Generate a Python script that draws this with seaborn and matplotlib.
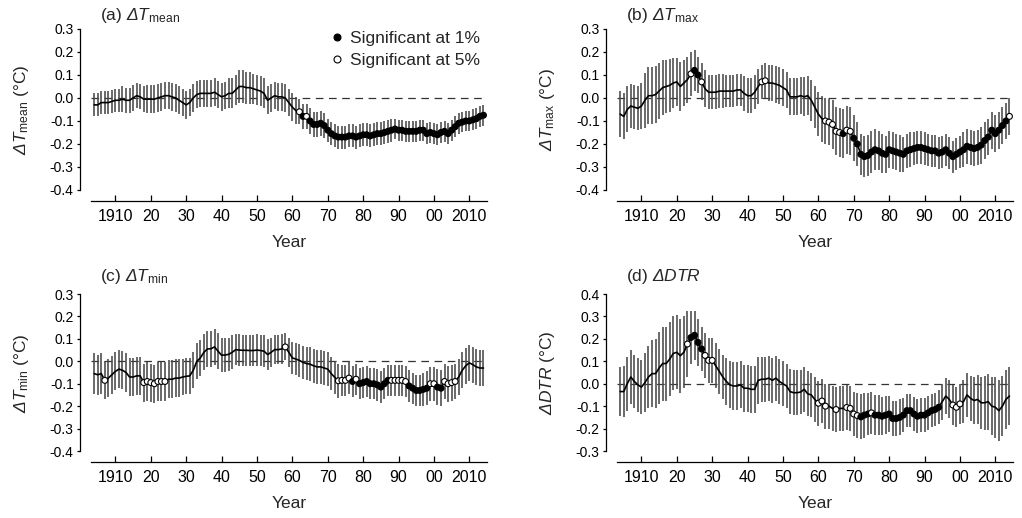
import matplotlib
matplotlib.use("Agg")
import matplotlib.pyplot as plt
from matplotlib.lines import Line2D
import numpy as np
import pandas as pd
import seaborn as sns

# ---------------- data ----------------
years = list(range(1904, 2015))

tmean_vals = [
    -0.03, -0.03, -0.02, -0.02, -0.02, -0.015, -0.01, -0.01, -0.005, -0.01,
    -0.01, 0.0, 0.01, 0.005, -0.005, -0.005, -0.005, -0.005, 0.0, 0.005,
    0.01, 0.01, 0.005, 0.0, -0.01, -0.02, -0.03, -0.02, 0.0, 0.015,
    0.02, 0.02, 0.02, 0.02, 0.025, 0.015, 0.005, 0.01, 0.02, 0.02,
    0.035, 0.05, 0.05, 0.045, 0.045, 0.04, 0.035, 0.03, 0.02, -0.01,
    0.0, 0.01, 0.005, 0.005, 0.0, -0.02, -0.04, -0.055, -0.06, -0.08,
    -0.08, -0.1, -0.115, -0.115, -0.11, -0.12, -0.14, -0.155, -0.165, -0.17,
    -0.17, -0.17, -0.165, -0.165, -0.17, -0.165, -0.16, -0.16, -0.165, -0.16,
    -0.155, -0.155, -0.15, -0.145, -0.14, -0.135, -0.14, -0.14, -0.145, -0.145,
    -0.145, -0.145, -0.14, -0.14, -0.155, -0.15, -0.155, -0.16, -0.15, -0.145,
    -0.155, -0.14, -0.125, -0.11, -0.105, -0.1, -0.1, -0.095, -0.09, -0.08,
    -0.075]
tmean_err = [
    0.05, 0.05, 0.05, 0.05, 0.05, 0.05, 0.05, 0.05, 0.055, 0.055,
    0.055, 0.055, 0.055, 0.055, 0.055, 0.06, 0.06, 0.06, 0.06, 0.06,
    0.06, 0.06, 0.06, 0.06, 0.06, 0.06, 0.06, 0.06, 0.06, 0.06,
    0.06, 0.06, 0.06, 0.06, 0.06, 0.06, 0.06, 0.06, 0.065, 0.065,
    0.065, 0.07, 0.07, 0.07, 0.07, 0.065, 0.065, 0.065, 0.065, 0.06,
    0.06, 0.06, 0.06, 0.06, 0.06, 0.06, 0.06, 0.06, 0.055, 0.055,
    0.055, 0.055, 0.055, 0.055, 0.055, 0.055, 0.05, 0.05, 0.05, 0.05,
    0.05, 0.05, 0.05, 0.05, 0.05, 0.05, 0.05, 0.05, 0.05, 0.05,
    0.05, 0.05, 0.05, 0.05, 0.05, 0.045, 0.045, 0.045, 0.045, 0.045,
    0.045, 0.045, 0.045, 0.045, 0.045, 0.045, 0.045, 0.045, 0.045, 0.045,
    0.045, 0.045, 0.045, 0.045, 0.045, 0.045, 0.045, 0.045, 0.045, 0.045,
    0.045]
tmean_sig1 = [1963] + list(range(1965, 2015))
tmean_sig5 = [1962, 1964]

tmax_vals = [
    -0.07, -0.08, -0.05, -0.035, -0.04, -0.045, -0.035, -0.01, 0.01, 0.01,
    0.015, 0.03, 0.045, 0.05, 0.055, 0.065, 0.07, 0.05, 0.065, 0.08,
    0.105, 0.12, 0.1, 0.07, 0.04, 0.025, 0.025, 0.025, 0.03, 0.03,
    0.03, 0.03, 0.03, 0.035, 0.035, 0.02, 0.01, 0.01, 0.025, 0.05,
    0.07, 0.075, 0.065, 0.065, 0.06, 0.055, 0.045, 0.035, 0.005, 0.005,
    0.005, 0.01, 0.005, 0.01, -0.01, -0.04, -0.07, -0.09, -0.1, -0.105,
    -0.115, -0.145, -0.15, -0.155, -0.14, -0.145, -0.175, -0.2, -0.245, -0.255,
    -0.25, -0.235, -0.225, -0.23, -0.24, -0.245, -0.225, -0.23, -0.235, -0.24,
    -0.245, -0.23, -0.225, -0.22, -0.215, -0.215, -0.22, -0.225, -0.23, -0.23,
    -0.24, -0.235, -0.225, -0.24, -0.255, -0.245, -0.235, -0.225, -0.21, -0.215,
    -0.22, -0.215, -0.205, -0.185, -0.17, -0.14, -0.155, -0.14, -0.12, -0.1,
    -0.08]
tmax_err = [
    0.1, 0.1, 0.1, 0.095, 0.095, 0.095, 0.1, 0.12, 0.125, 0.125,
    0.125, 0.12, 0.12, 0.115, 0.115, 0.11, 0.105, 0.105, 0.1, 0.1,
    0.095, 0.09, 0.08, 0.08, 0.08, 0.075, 0.075, 0.075, 0.075, 0.075,
    0.07, 0.07, 0.07, 0.07, 0.07, 0.075, 0.075, 0.075, 0.075, 0.075,
    0.075, 0.075, 0.08, 0.08, 0.08, 0.08, 0.08, 0.08, 0.08, 0.08,
    0.08, 0.08, 0.085, 0.085, 0.09, 0.09, 0.095, 0.1, 0.1, 0.1,
    0.105, 0.105, 0.105, 0.105, 0.105, 0.105, 0.1, 0.095, 0.09, 0.09,
    0.09, 0.09, 0.09, 0.085, 0.085, 0.08, 0.08, 0.08, 0.08, 0.08,
    0.075, 0.075, 0.075, 0.07, 0.07, 0.07, 0.07, 0.07, 0.07, 0.07,
    0.07, 0.07, 0.07, 0.07, 0.07, 0.07, 0.07, 0.075, 0.075, 0.075,
    0.075, 0.075, 0.08, 0.08, 0.08, 0.08, 0.08, 0.08, 0.08, 0.08,
    0.08]
tmax_sig1 = [1925, 1926, 1967] + list(range(1970, 2014))
tmax_sig5 = [1924, 1927, 1944, 1945, 1962, 1963, 1964, 1965, 1966, 1968, 1969, 2014]

tmin_vals = [
    -0.055, -0.06, -0.055, -0.085, -0.075, -0.06, -0.045, -0.035, -0.04, -0.05,
    -0.07, -0.07, -0.065, -0.065, -0.095, -0.09, -0.095, -0.1, -0.09, -0.09,
    -0.09, -0.08, -0.08, -0.075, -0.075, -0.07, -0.067, -0.065, -0.04, 0.0,
    0.015, 0.04, 0.055, 0.056, 0.064, 0.045, 0.027, 0.028, 0.031, 0.04,
    0.052, 0.05, 0.049, 0.049, 0.048, 0.048, 0.05, 0.048, 0.045, 0.03,
    0.04, 0.052, 0.052, 0.055, 0.064, 0.04, 0.015, 0.01, 0.004, -0.005,
    -0.01, -0.013, -0.02, -0.025, -0.025, -0.03, -0.035, -0.055, -0.072, -0.087,
    -0.085, -0.085, -0.075, -0.09, -0.08, -0.1, -0.095, -0.09, -0.1, -0.1,
    -0.105, -0.115, -0.1, -0.085, -0.085, -0.085, -0.085, -0.085, -0.09, -0.11,
    -0.12, -0.13, -0.13, -0.125, -0.12, -0.1, -0.1, -0.115, -0.12, -0.09,
    -0.1, -0.095, -0.09, -0.07, -0.04, -0.02, -0.007, -0.015, -0.025, -0.03,
    -0.03]
tmin_err = [
    0.09, 0.09, 0.09, 0.085, 0.085, 0.085, 0.085, 0.085, 0.085, 0.085,
    0.085, 0.085, 0.085, 0.085, 0.085, 0.085, 0.085, 0.085, 0.085, 0.085,
    0.085, 0.085, 0.085, 0.085, 0.085, 0.08, 0.08, 0.08, 0.08, 0.08,
    0.08, 0.08, 0.08, 0.08, 0.08, 0.08, 0.075, 0.075, 0.075, 0.075,
    0.07, 0.07, 0.07, 0.07, 0.07, 0.07, 0.07, 0.07, 0.07, 0.07,
    0.065, 0.065, 0.065, 0.065, 0.06, 0.065, 0.07, 0.07, 0.075, 0.075,
    0.075, 0.075, 0.075, 0.075, 0.075, 0.075, 0.075, 0.075, 0.075, 0.075,
    0.07, 0.07, 0.07, 0.07, 0.07, 0.07, 0.07, 0.07, 0.07, 0.07,
    0.07, 0.07, 0.07, 0.07, 0.07, 0.07, 0.07, 0.07, 0.07, 0.07,
    0.07, 0.07, 0.07, 0.075, 0.075, 0.075, 0.075, 0.08, 0.08, 0.08,
    0.08, 0.08, 0.08, 0.08, 0.08, 0.08, 0.08, 0.08, 0.08, 0.08,
    0.08]
tmin_sig1 = [1977] + list(range(1979, 1988)) + list(range(1993, 1999)) + [2001, 2002]
tmin_sig5 = ([1907] + list(range(1918, 1925)) + [1958, 1973, 1974, 1975, 1976, 1978]
             + list(range(1988, 1993)) + [1999, 2000, 2003, 2004, 2005, 2006])

dtr_vals = [
    -0.035, -0.035, 0.0, 0.03, 0.01, -0.005, -0.015, 0.005, 0.03, 0.045,
    0.045, 0.07, 0.09, 0.09, 0.11, 0.135, 0.14, 0.125, 0.14, 0.177,
    0.206, 0.216, 0.184, 0.155, 0.126, 0.104, 0.104, 0.08, 0.055, 0.03,
    0.01, -0.005, -0.01, -0.01, -0.005, -0.02, -0.02, -0.025, -0.025, 0.015,
    0.02, 0.02, 0.025, 0.015, 0.025, 0.01, 0.0, -0.01, -0.035, -0.04,
    -0.04, -0.037, -0.025, -0.045, -0.05, -0.07, -0.087, -0.077, -0.1, -0.1,
    -0.11, -0.115, -0.11, -0.11, -0.106, -0.11, -0.135, -0.142, -0.148, -0.14,
    -0.135, -0.13, -0.14, -0.14, -0.145, -0.14, -0.135, -0.155, -0.155, -0.15,
    -0.14, -0.12, -0.12, -0.135, -0.145, -0.14, -0.14, -0.13, -0.12, -0.115,
    -0.105, -0.08, -0.055, -0.07, -0.095, -0.105, -0.09, -0.08, -0.05, -0.065,
    -0.075, -0.07, -0.085, -0.085, -0.08, -0.1, -0.105, -0.12, -0.1, -0.07,
    -0.055]
dtr_err = [
    0.11, 0.115, 0.12, 0.12, 0.12, 0.12, 0.12, 0.13, 0.14, 0.15,
    0.155, 0.16, 0.165, 0.165, 0.165, 0.165, 0.165, 0.165, 0.16, 0.145,
    0.12, 0.11, 0.105, 0.1, 0.1, 0.1, 0.1, 0.1, 0.1, 0.1,
    0.105, 0.105, 0.105, 0.105, 0.105, 0.105, 0.105, 0.105, 0.105, 0.105,
    0.1, 0.1, 0.1, 0.1, 0.1, 0.1, 0.1, 0.1, 0.1, 0.1,
    0.1, 0.1, 0.1, 0.1, 0.1, 0.1, 0.1, 0.1, 0.1, 0.1,
    0.1, 0.1, 0.1, 0.1, 0.1, 0.1, 0.1, 0.1, 0.1, 0.1,
    0.095, 0.095, 0.09, 0.09, 0.085, 0.085, 0.08, 0.08, 0.08, 0.08,
    0.075, 0.075, 0.075, 0.075, 0.075, 0.075, 0.075, 0.075, 0.075, 0.075,
    0.075, 0.08, 0.08, 0.085, 0.09, 0.09, 0.09, 0.095, 0.1, 0.1,
    0.105, 0.11, 0.115, 0.12, 0.125, 0.13, 0.135, 0.135, 0.135, 0.13,
    0.13]
dtr_sig1 = [1924, 1925, 1926, 1927, 1972, 1973, 1974] + list(range(1976, 1995))
dtr_sig5 = [1923, 1928, 1929, 1930, 1960, 1961, 1962, 1965, 1968, 1969, 1970, 1971,
            1975, 1998, 1999, 2000]

xtick_years = [1910, 1920, 1930, 1940, 1950, 1960, 1970, 1980, 1990, 2000, 2010]
xtick_labels = ["1910", "20", "30", "40", "50", "60", "70", "80", "90", "00", "2010"]
yticks_temp = [0.3, 0.2, 0.1, 0.0, -0.1, -0.2, -0.3, -0.4]
yticks_dtr = [0.4, 0.3, 0.2, 0.1, 0.0, -0.1, -0.2, -0.3]
LAB1 = "Significant at 1%"
LAB5 = "Significant at 5%"

# ---------------- style ----------------
sns.set_style("ticks")
plt.rcParams["font.family"] = ["Liberation Sans", "DejaVu Sans"]
plt.rcParams["mathtext.fontset"] = "custom"
plt.rcParams["mathtext.rm"] = "Liberation Sans"
plt.rcParams["mathtext.it"] = "Liberation Sans:italic"
plt.rcParams["mathtext.sf"] = "Liberation Sans:italic"
plt.rcParams["mathtext.bf"] = "Liberation Sans:bold"
plt.rcParams["lines.scale_dashes"] = False

W, H = 1022, 518
fig = plt.figure(figsize=(W / 100, H / 100), dpi=100)

XTICK_FS = 11.5
YTICK_FS = 13.3
LAB_FS = 12.5


def px_axes(left, right, top, bottom):
    return [left / W, 1 - bottom / H, (right - left) / W, (bottom - top) / H]


panels = [
    dict(vals=tmean_vals, err=tmean_err, s1=tmean_sig1, s5=tmean_sig5,
         box=(91, 487, 29, 201), ylim=(-0.448, 0.3), yticks=yticks_temp,
         title=r"(a) $\mathsf{ΔT}_{\mathrm{mean}}$", title_base=20,
         ylabel=r"$\mathsf{ΔT}_{\mathrm{mean}}$ (°C)", legend=True),
    dict(vals=tmax_vals, err=tmax_err, s1=tmax_sig1, s5=tmax_sig5,
         box=(617, 1013, 29, 201), ylim=(-0.448, 0.3), yticks=yticks_temp,
         title=r"(b) $\mathsf{ΔT}_{\mathrm{max}}$", title_base=20,
         ylabel=r"$\mathsf{ΔT}_{\mathrm{max}}$ (°C)", legend=False),
    dict(vals=tmin_vals, err=tmin_err, s1=tmin_sig1, s5=tmin_sig5,
         box=(91, 487, 294, 462), ylim=(-0.449, 0.3), yticks=yticks_temp,
         title=r"(c) $\mathsf{ΔT}_{\mathrm{min}}$", title_base=281,
         ylabel=r"$\mathsf{ΔT}_{\mathrm{min}}$ (°C)", legend=False),
    dict(vals=dtr_vals, err=dtr_err, s1=dtr_sig1, s5=dtr_sig5,
         box=(617, 1013, 294, 462), ylim=(-0.349, 0.4), yticks=yticks_dtr,
         title=r"(d) $\mathsf{ΔDTR}$", title_base=281,
         ylabel=r"$\mathsf{ΔDTR}$ (°C)", legend=False),
]

for p in panels:
    l, r, t, b = p["box"]
    ax = fig.add_axes(px_axes(l, r, t, b))
    df = pd.DataFrame({"year": years, "value": p["vals"], "err": p["err"]})
    df["sig"] = ""
    df.loc[df["year"].isin(p["s1"]), "sig"] = LAB1
    df.loc[df["year"].isin(p["s5"]), "sig"] = LAB5

    ax.axhline(0, color="#333333", lw=0.9, ls=(0, (5.5, 4.0)), zorder=1)
    ax.vlines(df["year"], df["value"] - df["err"], df["value"] + df["err"],
              color="#484848", lw=1.15, zorder=2)
    sns.lineplot(data=df, x="year", y="value", color="black", lw=1.2,
                 ax=ax, zorder=3)
    dsig = df[df["sig"] != ""]
    sns.scatterplot(data=dsig, x="year", y="value", hue="sig",
                    hue_order=[LAB1, LAB5],
                    palette={LAB1: "black", LAB5: "white"},
                    edgecolor="black", linewidth=0.8, s=18, ax=ax,
                    legend=False, zorder=4)

    ax.set_xlim(1903.1, 2015.0)
    ax.set_ylim(*p["ylim"])
    ax.set_xticks(xtick_years)
    ax.set_xticklabels(xtick_labels, fontsize=XTICK_FS)
    ax.set_yticks(p["yticks"])
    ax.set_yticklabels([f"{v:.1f}" for v in p["yticks"]], fontsize=YTICK_FS)

    for s in ["top", "right"]:
        ax.spines[s].set_visible(False)
    ax.spines["left"].set_position(("outward", 8))
    ax.spines["left"].set_bounds(min(p["yticks"]), max(p["yticks"]))
    for s in ["left", "bottom"]:
        ax.spines[s].set_linewidth(0.9)
        ax.spines[s].set_color("black")
    ax.tick_params(axis="x", direction="in", length=4.5, width=0.9, pad=5.5,
                   colors="black")
    ax.tick_params(axis="y", direction="out", length=2.5, width=0.9, pad=2,
                   colors="black")

    ax.set_xlabel("Year", fontsize=LAB_FS, labelpad=8)
    ax.set_ylabel(p["ylabel"], fontsize=LAB_FS)
    ax.yaxis.set_label_coords(-0.152, 0.53)
    ax.text(9 / (r - l), (b - p["title_base"]) / (b - t),
            p["title"], transform=ax.transAxes, fontsize=LAB_FS,
            ha="left", va="baseline")

    if p["legend"]:
        handles = [
            Line2D([], [], ls="none", marker="o", markersize=5,
                   markerfacecolor="black", markeredgecolor="black",
                   markeredgewidth=0.8),
            Line2D([], [], ls="none", marker="o", markersize=5,
                   markerfacecolor="white", markeredgecolor="black",
                   markeredgewidth=0.8),
        ]
        ax.legend(handles, [LAB1, LAB5], loc="upper left",
                  bbox_to_anchor=((332 - l) / (r - l), (b - 31) / (b - t)),
                  frameon=False, handlelength=0.6, handletextpad=0.45,
                  labelspacing=0.4, borderpad=0, borderaxespad=0,
                  fontsize=LAB_FS)

fig.savefig("out.png", dpi=100)
